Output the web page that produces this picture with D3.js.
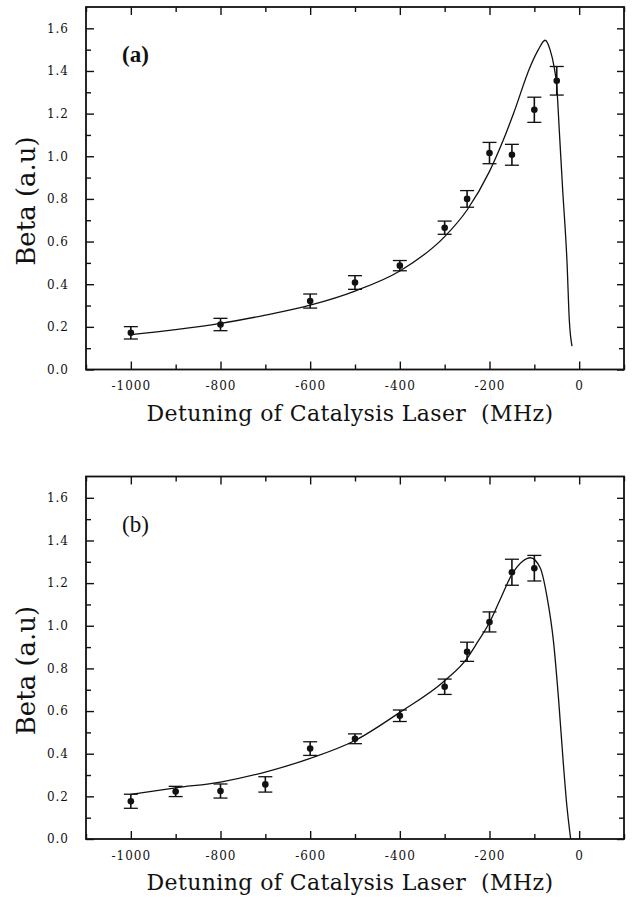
<!DOCTYPE html>
<html>
<head>
    <meta charset="utf-8">
    <script src="https://d3js.org/d3.v7.min.js"></script>
    <style>
        body { margin: 0; background: #fff; }
        text { font-family: "DejaVu Serif", serif; fill: #111; }
    </style>
</head>
<body>
<div id="chart"></div>
<script>
    // axis ticks
    let xTicks = [-1000, -800, -600, -400, -200, 0];
    let yTicks = [0, 0.2, 0.4, 0.6, 0.8, 1.0, 1.2, 1.4, 1.6];

    // panel (a) measured points
    let detA = [-1000, -800, -600, -500, -400, -300, -250, -200, -150, -100, -50];
    let betaA = [0.172, 0.211, 0.321, 0.408, 0.487, 0.665, 0.800, 1.015, 1.007, 1.218, 1.354];
    let errA = [0.029, 0.029, 0.033, 0.032, 0.024, 0.031, 0.039, 0.050, 0.049, 0.059, 0.067];
    // panel (a) fitted curve
    let fitDetA = [-1000, -900, -800, -700, -600, -500, -400, -300, -250, -200, -169, -146, -109, -91, -76, -65, -56, -50, -44, -37, -27, -22, -16];
    let fitBetaA = [0.164, 0.187, 0.216, 0.255, 0.302, 0.368, 0.462, 0.623, 0.748, 0.929, 1.077, 1.203, 1.421, 1.500, 1.544, 1.500, 1.420, 1.328, 1.109, 0.850, 0.498, 0.232, 0.110];

    // panel (b) measured points
    let detB = [-1000, -900, -800, -700, -600, -500, -400, -300, -250, -200, -150, -100];
    let betaB = [0.177, 0.223, 0.225, 0.256, 0.424, 0.470, 0.578, 0.714, 0.878, 1.018, 1.251, 1.270];
    let errB = [0.033, 0.024, 0.033, 0.036, 0.032, 0.023, 0.027, 0.036, 0.045, 0.047, 0.061, 0.060];
    // panel (b) fitted curve
    let fitDetB = [-1000, -900, -800, -700, -600, -500, -400, -300, -250, -225, -200, -176, -150, -126, -109, -87, -72, -57, -46, -35, -29, -19];
    let fitBetaB = [0.209, 0.240, 0.267, 0.314, 0.378, 0.462, 0.594, 0.742, 0.847, 0.929, 1.015, 1.124, 1.241, 1.303, 1.319, 1.272, 1.139, 0.921, 0.657, 0.345, 0.190, 0.0];

    let W = 643, H = 902;
    let svg = d3.select("#chart").append("svg")
        .attr("width", W)
        .attr("height", H);
    svg.append("rect").attr("width", W).attr("height", H).attr("fill", "#fff");

    drawPanel(7, "(a)", "bold", detA, betaA, errA, fitDetA, fitBetaA);
    drawPanel(476.5, "(b)", "normal", detB, betaB, errB, fitDetB, fitBetaB);

    function drawPanel(top, tag, tagWeight, det, beta, err, fitDet, fitBeta) {
        let left = 86, right = 624, bottom = top + 362.5;
        let x = d3.scaleLinear().domain([-1100, 100]).range([left, right]);
        let y = d3.scaleLinear().domain([0, 1.7]).range([bottom, top]);

        let g = svg.append("g");

        let minorX = d3.range(-1100, 101, 100).filter(v => v % 200 != 0);
        let minorY = d3.range(1, 17, 2).map(v => v / 10);
        let hyphen = d => d < 0 ? "-" + Math.abs(d) : String(d);

        // bottom / top axes, ticks inward
        g.append("g").attr("transform", `translate(0,${bottom})`)
            .call(d3.axisBottom(x).tickValues(xTicks).tickSizeInner(-8).tickSizeOuter(0).tickPadding(12).tickFormat(hyphen));
        g.append("g").attr("transform", `translate(0,${bottom})`)
            .call(d3.axisBottom(x).tickValues(minorX).tickSize(-5).tickFormat(""));
        g.append("g").attr("transform", `translate(0,${top})`)
            .call(d3.axisTop(x).tickValues(xTicks).tickSizeInner(-8).tickSizeOuter(0).tickFormat(""));
        g.append("g").attr("transform", `translate(0,${top})`)
            .call(d3.axisTop(x).tickValues(minorX).tickSize(-5).tickFormat(""));

        // left / right axes
        g.append("g").attr("transform", `translate(${left},0)`)
            .call(d3.axisLeft(y).tickValues(yTicks).tickSizeInner(-8).tickSizeOuter(0).tickPadding(17).tickFormat(d3.format(".1f")));
        g.append("g").attr("transform", `translate(${left},0)`)
            .call(d3.axisLeft(y).tickValues(minorY).tickSize(-5).tickFormat(""));
        g.append("g").attr("transform", `translate(${right},0)`)
            .call(d3.axisRight(y).tickValues(yTicks).tickSizeInner(-7).tickSizeOuter(0).tickFormat(""));
        g.append("g").attr("transform", `translate(${right},0)`)
            .call(d3.axisRight(y).tickValues(minorY).tickSize(-5).tickFormat(""));

        g.selectAll(".domain").remove();
        g.selectAll(".tick line").attr("stroke", "#111").attr("stroke-width", 1.4);
        g.selectAll(".tick text")
            .style("font-family", "'DejaVu Serif', serif")
            .style("font-size", "12px")
            .style("letter-spacing", "1px")
            .attr("fill", "#111");

        // frame
        g.append("rect")
            .attr("x", left).attr("y", top)
            .attr("width", right - left).attr("height", bottom - top)
            .attr("fill", "none").attr("stroke", "#111").attr("stroke-width", 1.8);

        // fitted curve
        let line = d3.line()
            .x(d => x(d[0]))
            .y(d => y(d[1]))
            .curve(d3.curveMonotoneX);
        g.append("path")
            .datum(fitDet.map((d, i) => [d, fitBeta[i]]))
            .attr("d", line)
            .attr("fill", "none")
            .attr("stroke", "#111")
            .attr("stroke-width", 1.3);

        // error bars
        let pts = det.map((d, i) => ({ x: d, y: beta[i], e: err[i] }));
        let eb = g.append("g").selectAll("g").data(pts).join("g");
        eb.append("line")
            .attr("x1", d => x(d.x)).attr("x2", d => x(d.x))
            .attr("y1", d => y(d.y - d.e)).attr("y2", d => y(d.y + d.e))
            .attr("stroke", "#111").attr("stroke-width", 1.6);
        [-1, 1].forEach(s => {
            eb.append("line")
                .attr("x1", d => x(d.x) - 7).attr("x2", d => x(d.x) + 7)
                .attr("y1", d => y(d.y + s * d.e)).attr("y2", d => y(d.y + s * d.e))
                .attr("stroke", "#111").attr("stroke-width", 1.3);
        });
        eb.append("circle")
            .attr("cx", d => x(d.x)).attr("cy", d => y(d.y))
            .attr("r", 3.3)
            .attr("fill", "#111");

        // panel tag
        g.append("text")
            .attr("x", 122).attr("y", top + 55)
            .style("font-family", "'Liberation Serif', serif")
            .style("font-size", "23px")
            .style("font-weight", tagWeight)
            .text(tag);

        // axis titles
        g.append("text")
            .attr("x", 350).attr("y", bottom + 51)
            .attr("text-anchor", "middle")
            .style("font-size", "22px")
            .style("letter-spacing", "0.4px")
            .style("white-space", "pre")
            .text("Detuning of Catalysis Laser  (MHz)");

        g.append("text")
            .attr("transform", `translate(35,${top + 194}) rotate(-90)`)
            .attr("text-anchor", "middle")
            .style("font-size", "26px")
            .text("Beta (a.u)");
    }
</script>
</body>
</html>
